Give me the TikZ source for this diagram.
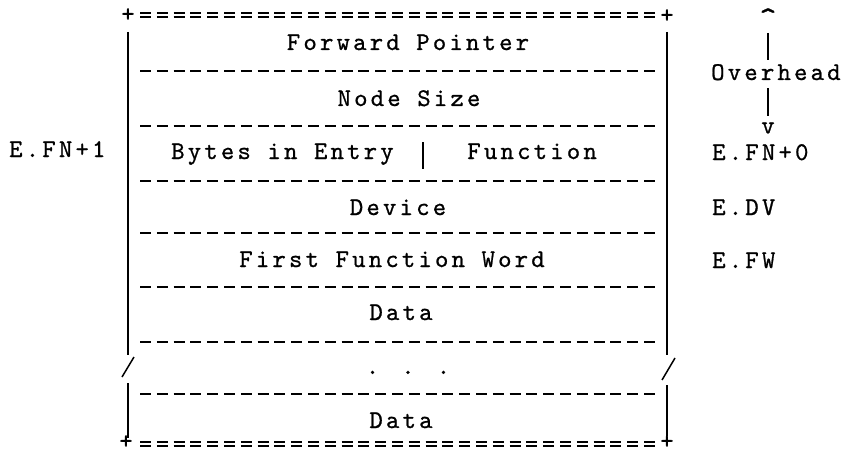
\documentclass[tikz,border=0pt]{standalone}
\usepackage{fontspec}
\usepackage{tikz}
\usetikzlibrary{positioning}

\newfontfamily\typefam{lmmono10-regular.otf}[LetterSpace=12.5, FakeBold=0.8]
\newfontfamily\glyphfam{lmmono10-regular.otf}[FakeBold=0.8]
\newcommand\typew{\fontsize{25.5}{30}\selectfont\typefam}
\newcommand\typeg{\fontsize{25.5}{30}\selectfont\glyphfam}

\begin{document}
\begin{tikzpicture}[x=1pt, y=-1pt,
  cell/.style={inner sep=0pt, font=\typew, anchor=base},
  glyph/.style={inner sep=0pt, font=\typeg},
  wall/.style={line width=1.9pt},
  arm/.style={line width=1.8pt},
  rule/.style={line width=1.9pt, dash pattern=on 11pt off 5.8pt},
  rim/.style={line width=1.3pt, dash pattern=on 11pt off 5.8pt}
]
  \path[use as bounding box] (0,0) rectangle (841,452);

  % entry block
  \node[glyph] (tl) at (128,15) {+};
  \node[glyph] (tr) at (667,16) {+};
  \node[glyph] (bl) at (126,442) {+};
  \node[glyph] (br) at (667,442) {+};
  \foreach \y in {15,444} {
    \draw[rim] (140,\y-2) -- (657,\y-2);
    \draw[rim] (140,\y+2) -- (657,\y+2);
  }
  \foreach \y in {71,126,181,233,287,342,394}
    \draw[rule] (140,\y) -- (660,\y);

  \draw[wall] (128,32) -- (128,355);
  \draw[wall] (128,383) -- (128,438);
  \draw[line width=1.5pt] (122,377) -- (134,357);
  \draw[wall] (667,32) -- (667,355);
  \draw[wall] (667,385) -- (667,436);
  \draw[line width=1.5pt] (662,380) -- (675,358);

  \node[cell] (fp) at (408,50) {Forward Pointer};
  \node[cell] (ns) at (409,106) {Node Size};
  \node[cell, anchor=base west] (bytes) at (171,159) {Bytes in Entry};
  \draw[wall] (423,142) -- (423,169);
  \node[cell, anchor=base east] (fn) at (597,159) {Function};
  \node[cell] (dv) at (398,215) {Device};
  \node[cell] (ffw) at (392,267) {First Function Word};
  \node[cell] (d1) at (401,320) {Data};
  \node[cell] (dots) at (408,374) {. . .};
  \node[cell] (d2) at (401,428) {Data};

  % offsets
  \node[cell, anchor=base west] (efn1) at (9,157) {E.FN+1};
  \node[cell, anchor=base west] (efn0) at (712,160) {E.FN+0};
  \node[cell, anchor=base west] (edv) at (712,215) {E.DV};
  \node[cell, anchor=base west] (efw) at (712,268) {E.FW};

  % overhead span
  \node[glyph, anchor=north, scale=1.3] (up) at (768,8) {\textasciicircum};
  \node[cell, anchor=base west] (ovh) at (711,80) {Overhead};
  \node[glyph] (dn) at (768,128) {v};
  \draw[arm, shorten >=3.5pt] (up.south |- 0,33) -- (up.south |- ovh.north);
  \draw[arm, shorten <=8pt, shorten >=6pt] (up.south |- ovh.south) -- (dn.north);
\end{tikzpicture}
\end{document}
